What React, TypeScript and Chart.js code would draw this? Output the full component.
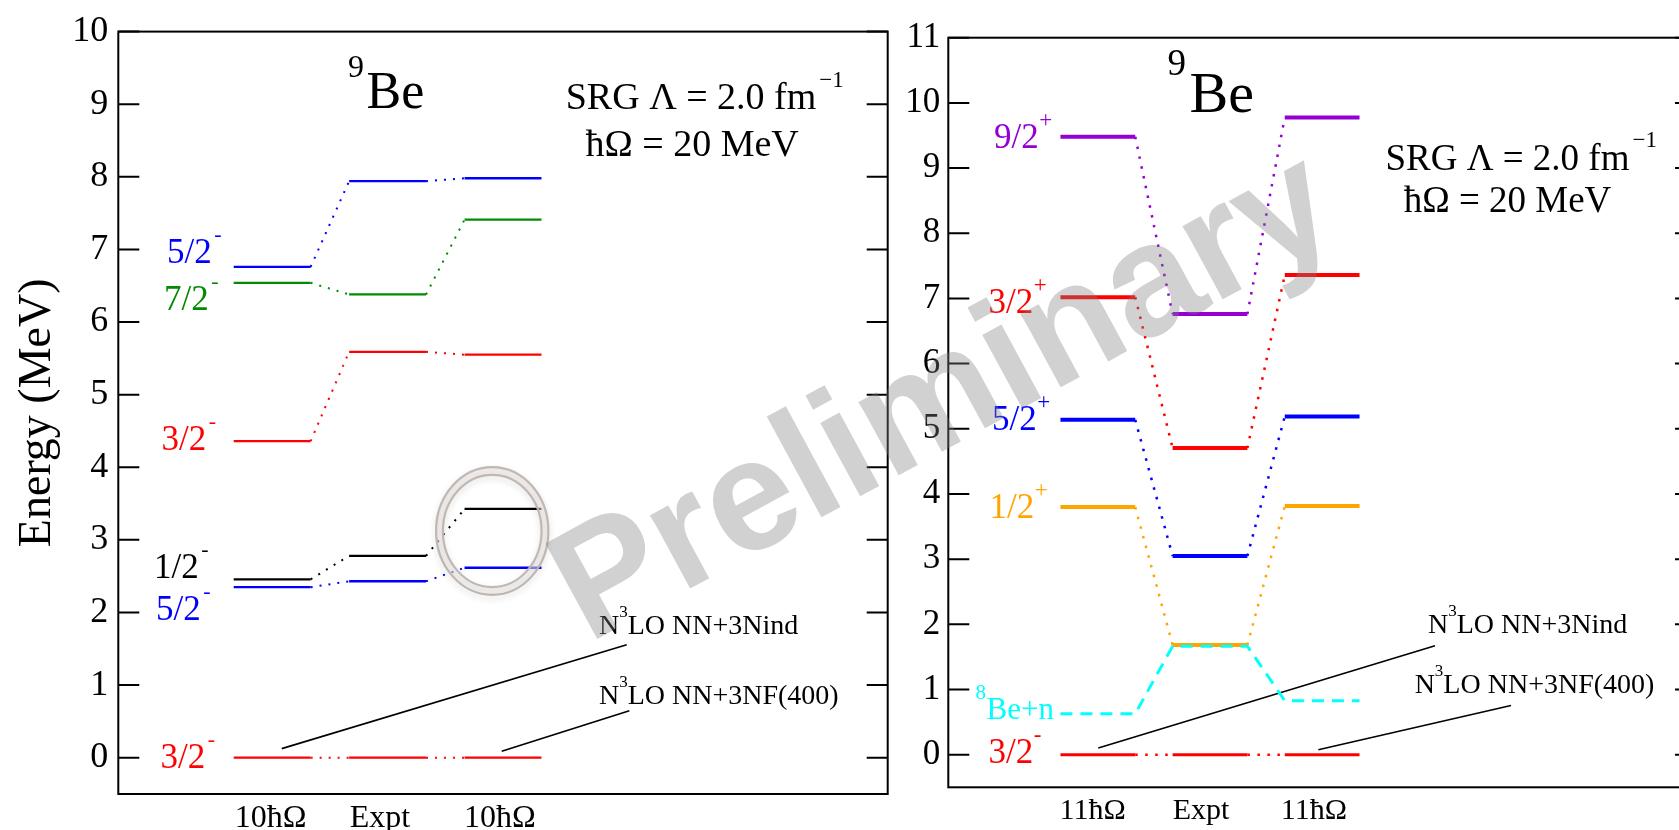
import React, { useEffect, useRef } from "react";
import { Chart, registerables } from "chart.js";

Chart.register(...registerables);

const SERIF = '"Liberation Serif", "Times New Roman", Times, serif';
const SANS = '"Liberation Sans", Arial, Helvetica, sans-serif';

// ---------------- data ----------------
// Left panel: 9Be negative-parity spectrum (10ħΩ NN+3Nind | Expt | 10ħΩ NN+3NF(400))
const leftColumnLabels = ["10ħΩ", "Expt", "10ħΩ"];
const leftColumnTicks = [1.98, 3.4, 4.96];
const leftYTicks = [0, 1, 2, 3, 4, 5, 6, 7, 8, 9, 10];
const leftGs32m = [0, 0, 0];
const left12m = [2.457, 2.78, 3.426];
const left52mLow = [2.348, 2.43, 2.616];
const left32m = [4.36, 5.59, 5.55];
const left72m = [6.54, 6.38, 7.41];
const left52mHigh = [6.76, 7.94, 7.98];
const leftStateNames = ["5/2", "7/2", "3/2", "1/2", "5/2", "3/2"];
const leftStateParity = ["-", "-", "-", "-", "-", "-"];

// Right panel: 9Be positive-parity spectrum (11ħΩ | Expt | 11ħΩ)
const rightColumnLabels = ["11ħΩ", "Expt", "11ħΩ"];
const rightColumnTicks = [1.93, 3.38, 4.89];
const rightYTicks = [0, 1, 2, 3, 4, 5, 6, 7, 8, 9, 10, 11];
const rightGs32m = [0, 0, 0];
const rightBe8n = [0.629, 1.665, 0.828];
const right12p = [3.799, 1.684, 3.814];
const right52p = [5.138, 3.049, 5.19];
const right32p = [7.02, 4.704, 7.36];
const right92p = [9.479, 6.76, 9.775];
const rightStateNames = ["9/2", "3/2", "5/2", "1/2", "3/2"];
const rightStateParity = ["+", "+", "+", "+", "-"];
const thresholdName = "Be+n";
const thresholdMass = "8";

const titleMass = "9";
const titleNucleus = "Be";
const srgLine = "SRG Λ = 2.0 fm";
const srgExp = "−1";
const hwLine = "ħΩ = 20 MeV";
const interactionOrder = "3";
const interactionNames = ["LO NN+3Nind", "LO NN+3NF(400)"];
const yAxisTitle = "Energy (MeV)";
const watermarkText = "Preliminary";

// ---------------- layout / style ----------------
const COLS = [
  [1.5, 2.5],
  [3, 4],
  [4.5, 5.5],
];
const H = 850;
const RED = "#ff0000";
const BLUE = "#0000ff";
const GREEN = "#008b00";
const BLACK = "#000000";
const VIOLET = "#9400d3";
const ORANGE = "#ffa500";
const CYAN = "#00ffff";

type Pt = { x: number; y: number };
type Run = { t: string; sup?: boolean };
type TextItem = {
  runs: Run[];
  x: number;
  y: number;
  color: string;
  size: number;
  supSize: number;
  rise: number;
  gap: number;
};

function levelData(vals: number[]): Pt[] {
  const pts: Pt[] = [];
  vals.forEach((v, i) => {
    pts.push({ x: COLS[i][0], y: v }, { x: COLS[i][1], y: v });
  });
  return pts;
}

function levelSet(
  vals: number[],
  color: string,
  width: number,
  linkWidth: number,
  barDash: number[],
  linkDash: number[]
) {
  return {
    data: levelData(vals),
    borderColor: color,
    borderWidth: width,
    borderCapStyle: "butt",
    pointRadius: 0,
    pointHoverRadius: 0,
    fill: false,
    tension: 0,
    segment: {
      borderDash: (c: any) => (c.p0DataIndex % 2 === 1 ? linkDash : barDash),
      borderWidth: (c: any) => (c.p0DataIndex % 2 === 1 ? linkWidth : width),
    },
  };
}

function pointerSet(a: Pt, b: Pt) {
  return {
    data: [a, b],
    borderColor: BLACK,
    borderWidth: 1.6,
    pointRadius: 0,
    pointHoverRadius: 0,
    fill: false,
    tension: 0,
  };
}

function drawRich(ctx: CanvasRenderingContext2D, item: TextItem, px: number, py: number) {
  let cx = px;
  ctx.textAlign = "left";
  ctx.textBaseline = "alphabetic";
  ctx.fillStyle = item.color;
  item.runs.forEach((r, i) => {
    const size = r.sup ? item.supSize : item.size;
    ctx.font = `${size}px ${SERIF}`;
    ctx.fillText(r.t, cx, r.sup ? py - item.rise : py);
    cx += ctx.measureText(r.t).width + (i < item.runs.length - 1 ? item.gap : 0);
  });
}

// watermark placement on the page (pixels)
const WM = { x: 588, y: 644, angle: 28.5, size: 158 };

interface PanelCfg {
  offsetX: number;
  width: number;
  xTicks: number[];
  xLabels: string[];
  xFont: number;
  xPad: number;
  xHeight: number;
  yTicks: number[];
  yMax: number;
  yFont: number;
  yPad: number;
  yWidth: number;
  yTitle?: string;
  padTop: number;
  padRight: number;
  datasets: any[];
  texts: TextItem[];
  ellipse?: { cx: number; cy: number; rings: number[][] };
}

function buildConfig(cfg: PanelCfg): any {
  const deco = {
    id: "deco" + cfg.offsetX,
    afterDatasetsDraw(chart: any) {
      const ctx: CanvasRenderingContext2D = chart.ctx;
      const xs = chart.scales.x;
      const ys = chart.scales.y;
      const { left, right, top, bottom } = chart.chartArea;
      ctx.save();
      if (cfg.ellipse) {
        const e = cfg.ellipse;
        const cx = xs.getPixelForValue(e.cx);
        const cy = ys.getPixelForValue(e.cy);
        const rads = e.rings.map((r) => [
          xs.getPixelForValue(e.cx + r[0]) - cx,
          cy - ys.getPixelForValue(e.cy + r[1]),
        ]);
        ctx.save();
        ctx.beginPath();
        ctx.ellipse(cx, cy, rads[0][0], rads[0][1], 0, 0, Math.PI * 2);
        ctx.ellipse(cx, cy, rads[1][0], rads[1][1], 0, 0, Math.PI * 2, true);
        ctx.fillStyle = "rgba(238,234,231,0.55)";
        ctx.fill();
        ctx.shadowColor = "rgba(0,0,0,0.18)";
        ctx.shadowBlur = 6;
        ctx.shadowOffsetY = 3;
        ctx.strokeStyle = "rgba(190,181,174,0.95)";
        ctx.lineWidth = 2.2;
        rads.forEach((r) => {
          ctx.beginPath();
          ctx.ellipse(cx, cy, r[0], r[1], 0, 0, Math.PI * 2);
          ctx.stroke();
        });
        ctx.restore();
      }
      cfg.texts.forEach((t) => drawRich(ctx, t, xs.getPixelForValue(t.x), ys.getPixelForValue(t.y)));
      // frame
      ctx.strokeStyle = BLACK;
      ctx.lineWidth = 2;
      ctx.strokeRect(left, top, right - left, bottom - top);
      // inward ticks on left and right axes
      ys.ticks.forEach((tk: any) => {
        const p = ys.getPixelForValue(tk.value);
        ctx.beginPath();
        ctx.moveTo(left, p);
        ctx.lineTo(left + 21, p);
        ctx.moveTo(right - 21, p);
        ctx.lineTo(right, p);
        ctx.stroke();
      });
      ctx.restore();
    },
    afterDraw(chart: any) {
      const ctx: CanvasRenderingContext2D = chart.ctx;
      ctx.save();
      ctx.translate(WM.x - cfg.offsetX, WM.y);
      ctx.rotate((-WM.angle * Math.PI) / 180);
      ctx.font = `bold ${WM.size}px ${SANS}`;
      ctx.fillStyle = "rgba(128,128,128,0.36)";
      ctx.textAlign = "left";
      ctx.textBaseline = "alphabetic";
      ctx.fillText(watermarkText, 0, 0);
      ctx.restore();
    },
  };

  return {
    type: "line",
    data: { datasets: cfg.datasets },
    options: {
      responsive: false,
      animation: false,
      devicePixelRatio: 1,
      events: [],
      layout: { padding: { left: 0, right: cfg.padRight, top: cfg.padTop, bottom: 0 } },
      plugins: {
        legend: { display: false },
        tooltip: { enabled: false },
        title: { display: false },
      },
      scales: {
        x: {
          type: "linear",
          min: 0,
          max: 10,
          grid: { display: false, drawTicks: false },
          border: { display: false },
          afterBuildTicks: (s: any) => {
            s.ticks = cfg.xTicks.map((v) => ({ value: v }));
          },
          afterFit: (s: any) => {
            s.height = cfg.xHeight;
          },
          ticks: {
            autoSkip: false,
            maxRotation: 0,
            minRotation: 0,
            padding: cfg.xPad,
            color: BLACK,
            font: { family: SERIF, size: cfg.xFont },
            callback: (_v: any, i: number) => cfg.xLabels[i],
          },
        },
        y: {
          type: "linear",
          min: -0.5,
          max: cfg.yMax,
          grid: { display: false, drawTicks: false },
          border: { display: false },
          afterBuildTicks: (s: any) => {
            s.ticks = cfg.yTicks.map((v) => ({ value: v }));
          },
          afterFit: (s: any) => {
            s.width = cfg.yWidth;
          },
          ticks: {
            autoSkip: false,
            padding: cfg.yPad,
            color: BLACK,
            font: { family: SERIF, size: cfg.yFont },
            callback: (v: any) => String(v),
          },
          title: cfg.yTitle
            ? {
                display: true,
                text: cfg.yTitle,
                color: BLACK,
                font: { family: SERIF, size: 46 },
                padding: { top: 10, bottom: 0 },
              }
            : { display: false },
        },
      },
    },
    plugins: [deco],
  };
}

function levelLabel(name: string, mark: string, x: number, y: number, color: string, supSize: number, rise: number, gap: number): TextItem {
  return { runs: [{ t: name }, { t: mark, sup: true }], x, y, color, size: 35, supSize, rise, gap };
}

const leftLabelAnchors = [
  [0.633, 6.812],
  [0.594, 6.171],
  [0.561, 4.234],
  [0.464, 2.475],
  [0.49, 1.902],
  [0.549, -0.143],
];
const leftLabelColors = [BLUE, GREEN, RED, BLACK, BLUE, RED];

const leftCfg: PanelCfg = {
  offsetX: 0,
  width: 895,
  xTicks: leftColumnTicks,
  xLabels: leftColumnLabels,
  xFont: 32,
  xPad: 5.5,
  xHeight: H - 794,
  yTicks: leftYTicks,
  yMax: 10,
  yFont: 36,
  yPad: 10,
  yWidth: 118.3,
  yTitle: yAxisTitle,
  padTop: 24.7,
  padRight: 895 - 887.7,
  datasets: [
    levelSet(leftGs32m, RED, 2.3, 2, [], [2, 7]),
    levelSet(left12m, BLACK, 2.3, 2, [], [2, 7]),
    levelSet(left52mLow, BLUE, 2.3, 2, [], [2, 7]),
    levelSet(left32m, RED, 2.3, 2, [], [2, 7]),
    levelSet(left72m, GREEN, 2.3, 2, [], [2, 7]),
    levelSet(left52mHigh, BLUE, 2.3, 2, [], [2, 7]),
    pointerSet({ x: 2.124, y: 0.125 }, { x: 6.608, y: 1.557 }),
    pointerSet({ x: 4.983, y: 0.089 }, { x: 6.642, y: 0.648 }),
  ],
  texts: [
    ...leftStateNames.map((n, i) =>
      levelLabel(n, leftStateParity[i], leftLabelAnchors[i][0], leftLabelAnchors[i][1], leftLabelColors[i], 22, 22, 2.5)
    ),
    { runs: [{ t: titleMass, sup: true }, { t: titleNucleus }], x: 2.986, y: 8.943, color: BLACK, size: 52, supSize: 32, rise: 31.7, gap: 2.5 },
    { runs: [{ t: srgLine }, { t: srgExp, sup: true }], x: 5.815, y: 8.935, color: BLACK, size: 38, supSize: 23, rise: 22, gap: 3 },
    { runs: [{ t: hwLine }], x: 6.072, y: 8.285, color: BLACK, size: 38, supSize: 23, rise: 22, gap: 0 },
    { runs: [{ t: "N" }, { t: interactionOrder, sup: true }, { t: interactionNames[0] }], x: 6.247, y: 1.698, color: BLACK, size: 28, supSize: 17, rise: 17, gap: 0 },
    { runs: [{ t: "N" }, { t: interactionOrder, sup: true }, { t: interactionNames[1] }], x: 6.247, y: 0.739, color: BLACK, size: 28, supSize: 17, rise: 17, gap: 0 },
  ],
  ellipse: { cx: 4.86, cy: 3.123, rings: [[0.73, 0.88], [0.641, 0.773]] },
};

const rightLabelAnchors = [
  [0.611, 9.305],
  [0.538, 6.784],
  [0.584, 4.985],
  [0.551, 3.63],
  [0.538, -0.127],
];
const rightLabelColors = [VIOLET, RED, BLUE, ORANGE, RED];

const rightCfg: PanelCfg = {
  offsetX: 895,
  width: 805,
  xTicks: rightColumnTicks,
  xLabels: rightColumnLabels,
  xFont: 30,
  xPad: 6.2,
  xHeight: H - 787.3,
  yTicks: rightYTicks,
  yMax: 11,
  yFont: 35,
  yPad: 8,
  yWidth: 948.3 - 895,
  padTop: 37.7,
  padRight: 805 - (1696 - 895),
  datasets: [
    levelSet(rightBe8n, CYAN, 3, 3, [12, 8], [12, 8]),
    levelSet(rightGs32m, RED, 3, 2.5, [], [2.5, 7.5]),
    levelSet(right12p, ORANGE, 4, 2.5, [], [2.5, 7.5]),
    levelSet(right52p, BLUE, 4, 2.5, [], [2.5, 7.5]),
    levelSet(right32p, RED, 4, 2.5, [], [2.5, 7.5]),
    levelSet(right92p, VIOLET, 4, 2.5, [], [2.5, 7.5]),
    pointerSet({ x: 2.006, y: 0.103 }, { x: 6.509, y: 1.672 }),
    pointerSet({ x: 4.949, y: 0.077 }, { x: 7.526, y: 0.756 }),
  ],
  texts: [
    ...rightStateNames.map((n, i) =>
      levelLabel(n, rightStateParity[i], rightLabelAnchors[i][0], rightLabelAnchors[i][1], rightLabelColors[i], 23, 21, 0.5)
    ),
    { runs: [{ t: thresholdMass, sup: true }, { t: thresholdName }], x: 0.364, y: 0.552, color: CYAN, size: 31, supSize: 21, rise: 20, gap: 0.5 },
    { runs: [{ t: titleMass, sup: true }, { t: titleNucleus }], x: 2.932, y: 9.867, color: BLACK, size: 58, supSize: 37, rise: 36.7, gap: 3.5 },
    { runs: [{ t: srgLine }, { t: srgExp, sup: true }], x: 5.846, y: 8.972, color: BLACK, size: 37, supSize: 23, rise: 23.3, gap: 3 },
    { runs: [{ t: hwLine }], x: 6.09, y: 8.324, color: BLACK, size: 37, supSize: 23, rise: 23, gap: 0 },
    { runs: [{ t: "N" }, { t: interactionOrder, sup: true }, { t: interactionNames[0] }], x: 6.416, y: 1.866, color: BLACK, size: 28, supSize: 17, rise: 17, gap: 0 },
    { runs: [{ t: "N" }, { t: interactionOrder, sup: true }, { t: interactionNames[1] }], x: 6.237, y: 0.946, color: BLACK, size: 28, supSize: 17, rise: 17, gap: 0 },
  ],
};

function Panel({ cfg }: { cfg: PanelCfg }) {
  const ref = useRef<HTMLCanvasElement>(null);
  useEffect(() => {
    const chart = new Chart(ref.current as HTMLCanvasElement, buildConfig(cfg));
    return () => chart.destroy();
  }, [cfg]);
  return (
    <canvas
      ref={ref}
      width={cfg.width}
      height={H}
      style={{ position: "absolute", left: cfg.offsetX, top: 0, width: cfg.width, height: H, display: "block" }}
    />
  );
}

export default function App() {
  return (
    <div
      style={{
        position: "fixed",
        left: 0,
        top: 0,
        width: 1679,
        height: 830,
        overflow: "hidden",
        background: "#ffffff",
      }}
    >
      <Panel cfg={leftCfg} />
      <Panel cfg={rightCfg} />
    </div>
  );
}
